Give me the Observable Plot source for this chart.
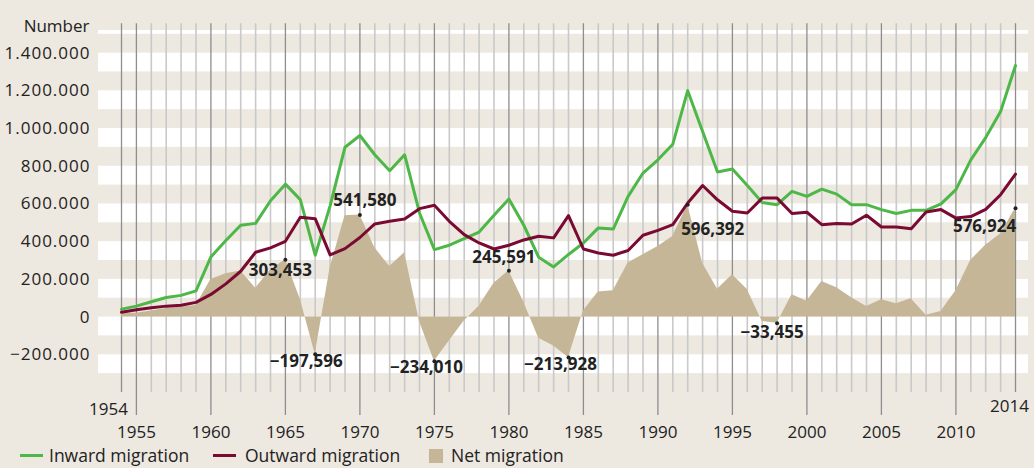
<!DOCTYPE html>
<html><head><meta charset="utf-8">
<script src="https://cdn.jsdelivr.net/npm/d3@7"></script>
<script src="https://cdn.jsdelivr.net/npm/@observablehq/plot@0.6"></script>
<style>
html,body{margin:0;padding:0;background:#ede8e0;width:1034px;height:468px;overflow:hidden;font-family:"Open Sans",sans-serif;color:#222;}
#chart{position:absolute;left:0;top:0;}
#chart g[aria-label="y-axis tick label"] text{letter-spacing:1px;}
#legend{position:absolute;left:0;top:443px;width:1034px;height:25px;font-size:17.5px;}
#legend .t{position:absolute;top:0;line-height:25px;white-space:nowrap;}
#legend .ln{position:absolute;top:11px;width:23px;height:3px;}
#legend .sq{position:absolute;top:6px;width:14px;height:14px;}
</style>
</head><body>
<div id="chart"></div>
<div id="legend"></div>
<script>
// ---- data ----
const years = [1954,1955,1956,1957,1958,1959,1960,1961,1962,1963,1964,1965,1966,1967,1968,1969,
  1970,1971,1972,1973,1974,1975,1976,1977,1978,1979,1980,1981,1982,1983,1984,1985,1986,1987,1988,1989,
  1990,1991,1992,1993,1994,1995,1996,1997,1998,1999,2000,2001,2002,2003,2004,2005,2006,2007,2008,2009,
  2010,2011,2012,2013,2014];
const inward = [42000,58000,81000,104000,115000,139000,319000,406000,487000,497000,617000,705000,623000,328000,590000,901000,
  963000,861000,776000,861000,552000,358000,381000,416000,451000,540000,626000,487000,317000,266000,332000,393000,473000,467000,640000,764000,
  834000,917000,1201000,984000,769000,785000,698000,608000,596000,667000,640000,679000,652000,596000,596000,570000,549000,566000,566000,600000,
  676000,834000,952000,1090000,1334000];
const outward = [26000,39000,49000,58000,63000,78000,120000,176000,243000,344000,367000,402000,529000,522000,330000,363000,
  422000,494000,508000,520000,575000,593000,508000,437000,393000,361000,381000,409000,429000,420000,538000,361000,340000,328000,353000,434000,
  460000,490000,605000,698000,622000,561000,552000,631000,631000,549000,556000,490000,496000,494000,540000,478000,478000,469000,557000,570000,
  525000,533000,571000,649000,758000];
const net = [17000,20000,32000,46000,52000,61000,199000,230000,244000,153000,250000,303453,94000,-197596,260000,538000,
  541580,367000,268000,341000,-23000,-234010,-127000,-21000,58000,179000,245591,78000,-112000,-154000,-213928,32000,133000,139000,287000,330000,
  374000,427000,596392,286000,147000,224000,146000,-23000,-33455,118000,84000,189000,156000,102000,56000,92000,71000,97000,9000,30000,
  140000,301000,381000,441000,576924];
const yTicks = [-200000,0,200000,400000,600000,800000,1000000,1200000,1400000];
const majorYears = [1955,1960,1965,1970,1975,1980,1985,1990,1995,2000,2005,2010];
const endYears = [1954,2014];
const labeledYears = [1965,1967,1970,1975,1980,1984,1992,1998,2014];
const seriesNames = ["Inward migration","Outward migration","Net migration"];

// ---- styles / layout ----
const C = {bg:"#ede8e0", green:"#4db848", maroon:"#7a0a32", tan:"#c6b698", minor:"#c9c9c9", major:"#8e8e8e", text:"#222"};
const labelOffsets = {1965:[-5,11],1967:[-9,7],1970:[5,-14],1975:[-8,6],1980:[-5,-13],1984:[-8,7],1992:[25,25],1998:[-5,9],2014:[-31,18]};

const rows = years.map((year,i)=>({year, inward:inward[i], outward:outward[i], net:net[i]}));
const minorYears = years.filter(y=>!majorYears.includes(y) && !endYears.includes(y));
const bandTops = [...yTicks, 1600000];
const xDomain = [1952.456, 2014.872];
const deFmt = d3.formatLocale({decimal:",", thousands:".", grouping:[3], currency:["","€"], minus:"\u2212"}).format(",d");
const enFmt = d3.format(",d");

const labelMarks = labeledYears.map(yr=>{
  const r = rows.find(d=>d.year===yr);
  const [dx,dy] = labelOffsets[yr];
  return Plot.text([r], {x:"year", y:"net", text:d=>enFmt(d.net), dx, dy, fontSize:17, fontWeight:700, fill:C.text});
});

const chart = Plot.plot({
  width:1034, height:442,
  marginLeft:98, marginRight:6, marginTop:30, marginBottom:40.6,
  style:{background:"transparent", fontFamily:"'Open Sans', sans-serif", fontSize:"17px", color:C.text},
  x:{domain:xDomain},
  y:{domain:[-450000,1520000]},
  marks:[
    Plot.rect(bandTops, {x1:xDomain[0], x2:xDomain[1], y1:d=>d-100000, y2:d=>d, fill:"#fff", clip:true}),
    Plot.ruleX(minorYears, {x:d=>d, y1:1556000, y2:-400000, stroke:C.minor, strokeWidth:1.6}),
    Plot.ruleX(majorYears, {x:d=>d, y1:1556000, y2:-522000, stroke:C.major, strokeWidth:1.3}),
    Plot.ruleX(endYears, {x:d=>d, y1:1556000, y2:-400000, stroke:C.major, strokeWidth:1.3}),
    Plot.areaY(rows, {x:"year", y:"net", fill:C.tan}),
    Plot.lineY(rows, {x:"year", y:"inward", stroke:C.green, strokeWidth:3}),
    Plot.lineY(rows, {x:"year", y:"outward", stroke:C.maroon, strokeWidth:3}),
    Plot.dot(rows.filter(d=>labeledYears.includes(d.year)), {x:"year", y:"net", r:2, fill:C.text}),
    ...labelMarks,
    Plot.axisY({ticks:yTicks, tickSize:0, tickPadding:8, tickFormat:deFmt, fontSize:17, label:null}),
    Plot.text(["Number"], {frameAnchor:"top-left", textAnchor:"end", dx:-9, dy:-11, fontSize:17, fill:C.text}),
    Plot.axisX({ticks:majorYears, tickSize:0, tickPadding:23.6, tickFormat:d=>String(d), fontSize:17, label:null}),
    Plot.axisX({ticks:[1954], tickSize:0, tickPadding:0.6, dx:-13, tickFormat:d=>String(d), fontSize:17, label:null}),
    Plot.axisX({ticks:[2014], tickSize:0, tickPadding:-2.4, dx:-6, tickFormat:d=>String(d), fontSize:17, label:null})
  ]
});
document.getElementById("chart").appendChild(chart);

// legend
const lg = document.getElementById("legend");
const items = [
  {name:seriesNames[0], kind:"ln", color:C.green, sx:20, tx:49},
  {name:seriesNames[1], kind:"ln", color:C.maroon, sx:213, tx:245},
  {name:seriesNames[2], kind:"sq", color:C.tan, sx:429, tx:451}
];
for (const it of items) {
  const s = document.createElement("div"); s.className = it.kind; s.style.left = it.sx+"px"; s.style.background = it.color; lg.appendChild(s);
  const t = document.createElement("div"); t.className = "t"; t.style.left = it.tx+"px"; t.textContent = it.name; lg.appendChild(t);
}
</script>
</body></html>
